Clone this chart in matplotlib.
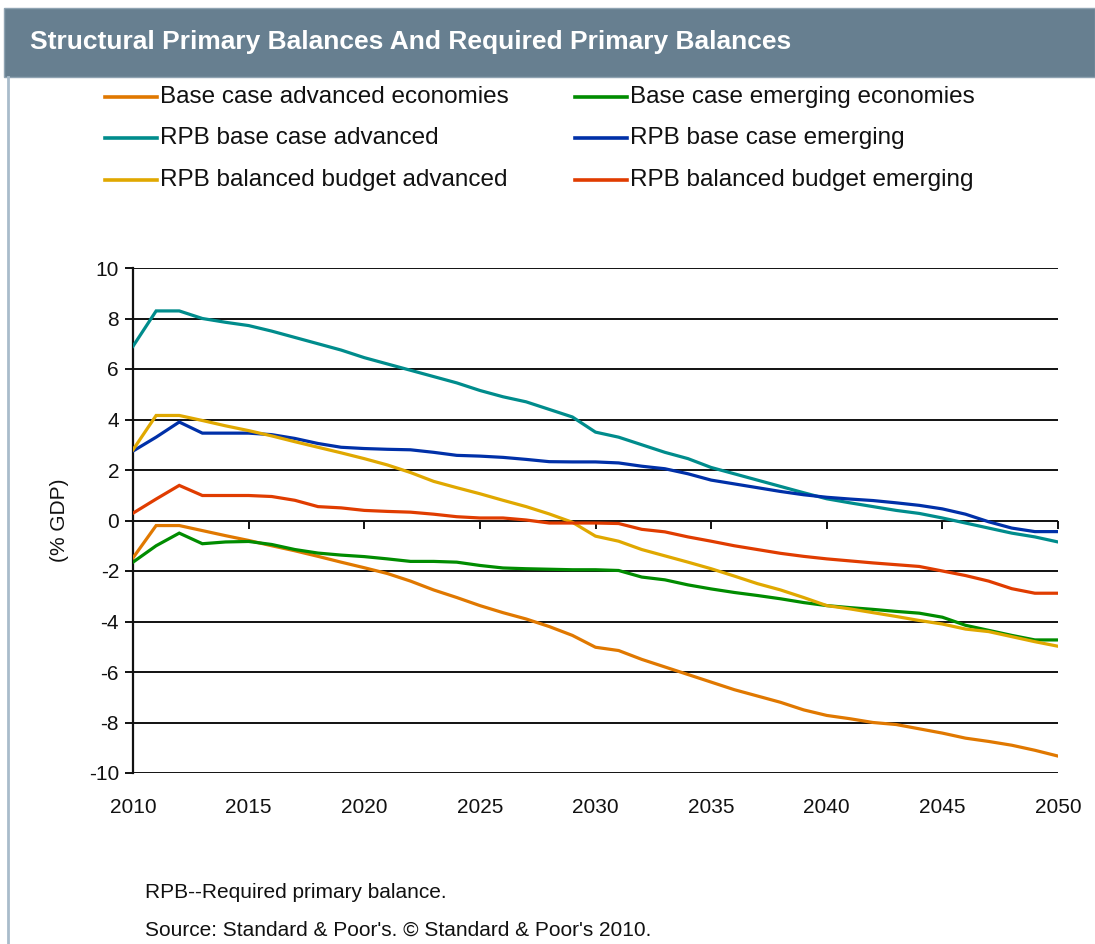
import matplotlib
matplotlib.use("Agg")
import matplotlib.pyplot as plt
from matplotlib.patches import Rectangle
from matplotlib.lines import Line2D

plt.rcParams['axes.unicode_minus'] = False
plt.rcParams['font.family'] = ['Liberation Sans', 'DejaVu Sans']

years = list(range(2010, 2051))

base_adv = [-1.48, -0.2, -0.2, -0.4, -0.6, -0.79, -1.0, -1.2, -1.42, -1.65, -1.87,
            -2.1, -2.4, -2.75, -3.05, -3.37, -3.65, -3.9, -4.2, -4.55, -5.02,
            -5.15, -5.5, -5.8, -6.1, -6.4, -6.7, -6.95, -7.2, -7.5, -7.72,
            -7.85, -8.0, -8.08, -8.25, -8.42, -8.62, -8.75, -8.9, -9.1, -9.33]
base_emg = [-1.65, -1.0, -0.5, -0.92, -0.85, -0.83, -0.95, -1.15, -1.29, -1.37, -1.43,
            -1.52, -1.62, -1.62, -1.65, -1.78, -1.88, -1.91, -1.93, -1.95, -1.95,
            -1.98, -2.24, -2.35, -2.55, -2.71, -2.85, -2.97, -3.1, -3.25, -3.37,
            -3.45, -3.52, -3.6, -3.67, -3.83, -4.15, -4.35, -4.55, -4.73, -4.73]
rpb_base_adv = [6.9, 8.3, 8.3, 8.0, 7.85, 7.72, 7.5, 7.25, 7.0, 6.75, 6.45,
                6.2, 5.95, 5.7, 5.45, 5.15, 4.9, 4.7, 4.4, 4.1, 3.5,
                3.3, 3.0, 2.7, 2.45, 2.1, 1.85, 1.6, 1.35, 1.1, 0.86,
                0.7, 0.55, 0.4, 0.28, 0.1, -0.1, -0.3, -0.5, -0.65, -0.85]
rpb_base_emg = [2.75, 3.3, 3.9, 3.46, 3.46, 3.46, 3.4, 3.25, 3.05, 2.9, 2.85,
                2.82, 2.8, 2.7, 2.58, 2.55, 2.5, 2.42, 2.33, 2.32, 2.32,
                2.28, 2.15, 2.05, 1.85, 1.6, 1.45, 1.3, 1.15, 1.02, 0.92,
                0.85, 0.79, 0.7, 0.6, 0.46, 0.25, -0.05, -0.3, -0.44, -0.44]
rpb_bb_adv = [2.8, 4.16, 4.16, 3.96, 3.75, 3.56, 3.35, 3.12, 2.9, 2.68, 2.45,
              2.2, 1.9, 1.55, 1.3, 1.06, 0.8, 0.55, 0.26, -0.07, -0.62,
              -0.82, -1.15, -1.4, -1.65, -1.91, -2.2, -2.5, -2.75, -3.05, -3.37,
              -3.5, -3.65, -3.8, -3.96, -4.1, -4.3, -4.4, -4.6, -4.8, -4.98]
rpb_bb_emg = [0.29, 0.85, 1.39, 0.99, 0.99, 0.99, 0.95, 0.8, 0.55, 0.5, 0.4,
              0.36, 0.33, 0.25, 0.15, 0.1, 0.1, 0.02, -0.1, -0.1, -0.1,
              -0.12, -0.35, -0.45, -0.65, -0.82, -1.0, -1.15, -1.3, -1.42, -1.52,
              -1.6, -1.68, -1.75, -1.82, -2.0, -2.18, -2.4, -2.7, -2.88, -2.88]

series_labels = ["Base case advanced economies", "Base case emerging economies",
                 "RPB base case advanced", "RPB base case emerging",
                 "RPB balanced budget advanced", "RPB balanced budget emerging"]
series_values = [base_adv, base_emg, rpb_base_adv, rpb_base_emg, rpb_bb_adv, rpb_bb_emg]
series_colors = ["#E07800", "#008C00", "#008C8C", "#0030A8", "#E0A800", "#E03C00"]

y_ticks = list(range(-10, 11, 2))
x_ticks = list(range(2010, 2051, 5))

title = "Structural Primary Balances And Required Primary Balances"
y_label = "(% GDP)"
note1 = "RPB--Required primary balance."
note2 = "Source: Standard & Poor's. \u00a9 Standard & Poor's 2010."

W, H = 1095, 944
fig = plt.figure(figsize=(W / 100, H / 100), dpi=100)
fig.patch.set_facecolor("white")

# title bar
fig.patches.append(Rectangle((4 / W, 1 - 77 / H), 1 - 4 / W, 69 / H,
                             transform=fig.transFigure, facecolor="#677F90",
                             edgecolor="#8FA3B2", lw=1, zorder=0))
# left border
fig.add_artist(Line2D([8 / W, 8 / W], [0, 1 - 77 / H], transform=fig.transFigure,
                      color="#A9BCCB", lw=2))
fig.text(30 / W, 1 - 42 / H, title, color="white", fontsize=19, fontweight="bold",
         va="center", ha="left")

# legend
rows_y = [97, 138, 180]
cols_x = [105, 575]
for i, (lab, col) in enumerate(zip(series_labels, series_colors)):
    r, c = i // 2, i % 2
    yy = 1 - rows_y[r] / H
    x0 = cols_x[c]
    fig.add_artist(Line2D([x0 / W, (x0 + 52) / W], [yy, yy], transform=fig.transFigure,
                          color=col, lw=2.6))
    fig.text((x0 + 55) / W, yy, lab, fontsize=17.5, va="center", ha="left", color="#111111")

# axes
left, right, top, bottom = 133, 1058, 268, 773
ax = fig.add_axes([left / W, 1 - bottom / H, (right - left) / W, (bottom - top) / H])
ax.set_xlim(2010, 2050)
ax.set_ylim(-10, 10)
for yv in y_ticks:
    ax.axhline(yv, color="#111111", lw=1.4, zorder=1)
for vals, col in zip(series_values, series_colors):
    ax.plot(years, vals, color=col, lw=2.3, zorder=3, solid_joinstyle="miter")

for s in ["top", "right"]:
    ax.spines[s].set_visible(False)
ax.spines["left"].set_color("#111111")
ax.spines["left"].set_linewidth(1.6)
ax.spines["bottom"].set_position(("data", 0))
ax.spines["bottom"].set_visible(False)
ax.set_yticks(y_ticks)
ax.set_yticklabels([str(v) for v in y_ticks])
ax.tick_params(axis="y", direction="out", length=6, width=1.4, color="#111111",
               labelsize=15, pad=4, labelcolor="#111111")
ax.set_xticks(x_ticks)
ax.tick_params(axis="x", direction="out", length=6, width=1.4, color="#111111",
               labelbottom=False)
sec = ax.secondary_xaxis("bottom")
sec.set_xticks(x_ticks)
sec.set_xticklabels([str(v) for v in x_ticks])
sec.tick_params(length=0, pad=18, labelsize=15, labelcolor="#111111")
sec.spines["bottom"].set_visible(False)

ax.set_ylabel(y_label, fontsize=15, labelpad=14, color="#111111")

fig.text(145 / W, 1 - 893 / H, note1, fontsize=15, va="center", ha="left", color="#111111")
fig.text(145 / W, 1 - 930 / H, note2, fontsize=15, va="center", ha="left", color="#111111")

fig.savefig("out.png", dpi=100)
